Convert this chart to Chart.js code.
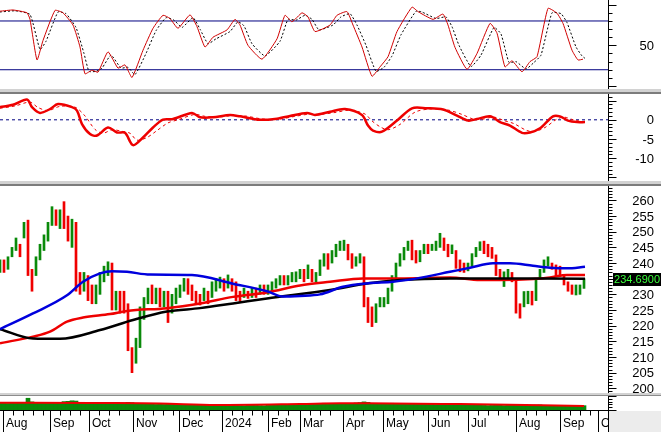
<!DOCTYPE html>
<html>
<head>
<meta charset="utf-8">
<script src="https://cdn.jsdelivr.net/npm/chart.js@4.4.1/dist/chart.umd.min.js"></script>
<style>
  body { margin: 0; background: #fff; width: 661px; height: 432px; overflow: hidden; position: relative; }
  canvas { position: absolute; left: 0; }
  .sep { position: absolute; left: 0; width: 661px; }
</style>
</head>
<body>
<canvas id="cStoch" width="661" height="89" style="top:0px"></canvas>
<div class="sep" style="top:89px;height:3px;background:#d2d2d2"></div>
<div class="sep" style="top:92px;height:2px;background:#7c7c7c"></div>
<canvas id="cMacd" width="661" height="87" style="top:94px"></canvas>
<div class="sep" style="top:181px;height:3px;background:#d2d2d2"></div>
<div class="sep" style="top:184px;height:2px;background:#7c7c7c"></div>
<canvas id="cPrice" width="661" height="207" style="top:186px"></canvas>
<div class="sep" style="top:393px;height:2px;background:#d2d2d2"></div>
<div class="sep" style="top:395px;height:1px;background:#8c8c8c"></div>
<canvas id="cVol" width="661" height="36" style="top:396px"></canvas>

<script>
// ---- data (x = bar index, one bar ~ two sessions, Aug 2023 -> Sep 2024) ----
const closes = [
  239, 238, 240, 244, 247, 243, 251, 238, 235, 241,
  245, 248, 252, 257, 254, 255, 253, 249, 252, 235,
  232, 235, 231, 229, 231, 236, 237, 239, 228, 230,
  228, 226, 214, 208, 214, 224, 228, 231, 229, 231,
  228, 230, 226, 228, 231, 232, 235, 232, 230, 229,
  228, 231, 230, 233, 234, 235, 233, 235, 234, 230,
  229, 231, 230, 231, 230, 232, 231, 232, 233, 234,
  235, 234, 235, 236, 236, 237, 236, 238, 235, 236,
  240, 242, 240, 243, 245, 246, 246, 243, 240, 241,
  242, 228, 224, 222, 226, 227, 227, 231, 235, 239,
  242, 244, 246, 243, 241, 243, 245, 244, 245, 246,
  248, 245, 243, 244, 240, 239, 238, 239, 242, 244,
  246, 245, 244, 242, 238, 236, 236, 237, 235, 226,
  224, 229, 230, 229, 234, 237, 240, 241, 239, 238,
  236, 234, 232, 231, 231, 232, 234.69
];
const highs = [
  241, 241, 242, 245, 248, 246, 253, 253.7, 238, 242,
  246, 249, 253, 258, 257, 257, 259.6, 255, 254, 253,
  237, 237, 236, 233, 233, 237, 239, 240.4, 240, 231,
  231, 231, 227, 213, 216, 226, 229, 232, 233, 232,
  232, 231, 231, 230, 232, 233, 235.1, 235, 233, 231,
  230, 232, 231, 234, 235, 235.5, 235, 236.2, 235, 234,
  231, 232, 231, 232, 232, 233, 233, 233, 234, 235,
  236, 236, 236, 237, 237.2, 238, 238, 239.4, 238, 237,
  241, 243, 243, 244, 246, 247, 247.3, 246, 243, 242,
  243, 242, 229, 226, 227, 229, 229, 232, 236, 240,
  243, 245, 247, 247.3, 244, 244, 246, 246, 246, 247,
  249.5, 248, 246, 245.8, 244, 241, 240, 240, 243, 245,
  246.8, 247, 246, 245, 242.6, 238, 237.2, 238, 237, 235,
  227, 230.9, 231, 231, 235.1, 238, 241, 242, 240, 239.4,
  239, 236, 234, 233, 233, 233, 235
];
const lows = [
  237, 237, 238, 242, 244, 242, 248, 236, 231, 236,
  241, 244, 247, 252, 252, 251, 251, 247, 245, 231,
  230, 231, 228, 227, 227, 230, 234, 236, 225, 225,
  224, 224, 212, 205, 208, 213, 222, 227, 227, 227,
  226, 226, 221, 224, 227, 229, 231, 230, 228, 227,
  226.6, 228, 227, 229, 231, 232, 231, 232, 231, 228,
  227.7, 229, 228.7, 229, 229, 230, 230, 230, 231, 232,
  233, 233, 233, 234, 234, 235, 234, 235, 234, 234,
  236, 239, 238, 240, 242, 244, 244, 241, 238.3, 239,
  240, 226, 221, 219.7, 221, 226, 226, 227, 231, 235,
  239, 241, 244, 241, 240, 240.4, 243, 243, 244, 244,
  245, 244, 242, 243, 238.3, 237.2, 237, 237.5, 239, 242,
  244, 243, 242, 241.5, 236, 235, 232.5, 235, 234, 224,
  222.4, 226, 227, 226.6, 228, 235, 237, 239, 238, 236,
  235.7, 233, 231, 230, 229.8, 230, 231.9
];
const volumes = [
  48, 50, 47, 52, 49, 51, 55, 84, 58, 52,
  50, 48, 52, 55, 50, 49, 60, 62, 66, 64,
  55, 50, 48, 46, 45, 48, 50, 46, 52, 48,
  46, 50, 55, 52, 47, 44, 42, 43, 41, 40,
  42, 40, 43, 44, 41, 39, 38, 40, 37, 38,
  36, 35, 37, 36, 34, 33, 32, 34, 35, 33,
  32, 31, 33, 34, 33, 32, 31, 33, 35, 37,
  38, 37, 39, 41, 40, 42, 45, 43, 42, 44,
  46, 48, 45, 44, 43, 45, 47, 44, 42, 50,
  53, 58, 55, 48, 45, 43, 44, 46, 48, 47,
  45, 44, 43, 42, 44, 43, 41, 42, 40, 39,
  38, 40, 39, 37, 36, 37, 35, 34, 36, 35,
  34, 33, 32, 33, 35, 34, 32, 33, 36, 40,
  38, 35, 33, 34, 35, 36, 33, 32, 31, 32,
  30, 29, 28, 29, 30, 29, 31
];
const lastPrice = 234.69;

// moving averages on price
const maBlueX = [0, 8.25, 16.75, 20.75, 25, 28, 31.75, 37.5, 48, 58.25, 66.75, 70.75, 75, 80, 85.75, 91.75, 98.25, 104.25, 112.5, 117.5, 123.25, 127.5, 133.25, 137.5, 141.75, 146.25];
const maBlue  = [218.9, 223.9, 229.7, 234, 236.7, 237.4, 237.2, 236.3, 236.2, 233.4, 231.0, 229.3, 229.5, 230, 232.4, 233.5, 234, 235.1, 237.2, 238.5, 239.9, 239.9, 239.1, 238.5, 238.3, 238.8];
const maRedX  = [0, 8.25, 12.5, 16.75, 20.75, 27.5, 31.75, 41.75, 50, 58.25, 66.75, 75, 82.5, 90.75, 100, 112.5, 120, 125, 133.25, 137.5, 141.75, 146.25];
const maRed   = [214.4, 216.5, 218.1, 221.3, 222.6, 223.7, 224.7, 225.6, 227.1, 229.2, 230.6, 232.8, 234, 235.1, 235.1, 235.4, 234.6, 234.6, 234.9, 235.4, 236.2, 236.2];
const maBlackX = [0, 8.25, 15, 25, 33.25, 41.75, 50, 58.25, 66.75, 82.5, 91.75, 100, 112.5, 146.25];
const maBlack  = [218.9, 215.9, 215.8, 218.6, 221.8, 224.5, 225.6, 227.1, 228.7, 231.4, 233.5, 234.6, 235.1, 235.0];
const volMaX = [0, 7, 25, 40, 54, 75, 85, 92, 115, 146];
const volMa  = [52, 52, 50, 47, 36, 43, 48, 48, 42, 29];

// stochastic %K / %D
const stochKX = [0, 3.25, 6.75, 7.5, 9.25, 10.75, 13.75, 15.75, 18.25, 20, 21.25, 23, 24.5, 27, 29.5, 31.25, 33, 35.75, 38.25, 40.75, 42.5, 44.5, 47.5, 49.25, 51.25, 53.25, 56.75, 58.75, 60, 62, 65.5, 69.25, 71.25, 73, 75.5, 77, 78.75, 82.5, 84.25, 86.75, 88.25, 90.5, 93, 95, 97, 99.25, 103, 104.5, 108.25, 110.75, 112, 113.75, 116.75, 119.25, 122.5, 124.25, 126.25, 128, 130.5, 132.5, 134.25, 137, 139.25, 140.75, 143, 144.5, 145.75];
const stochK  = [92, 93.5, 90, 82, 32, 56, 93, 90, 75, 48, 15, 19.5, 17, 42, 22, 26, 10.5, 44, 71, 87, 83, 71, 87.5, 73, 48, 60, 69, 82, 75, 50, 33, 58, 87, 79, 90, 85, 67, 75, 87, 91.5, 75, 48, 12, 23.5, 36, 67, 97, 91.5, 82, 88.5, 75, 47.5, 20.5, 40, 77, 65, 23.5, 31, 17.5, 30, 36, 95.5, 89.5, 77, 44, 32, 33];
const stochDX = [0, 3.75, 7.5, 10, 11.5, 14.5, 16.5, 19, 21, 22.25, 24, 25.5, 27.75, 30.25, 32, 33.75, 36.5, 39, 41.5, 43.5, 45.5, 48.25, 50, 52, 54, 57.5, 59.5, 61, 63, 66.25, 70, 72, 74, 76.25, 78, 79.75, 83.25, 85.25, 87.5, 89.25, 91.5, 94, 96, 98, 100.25, 104, 105.5, 109, 111.5, 113, 114.75, 117.75, 120.25, 123.5, 125.25, 127.25, 129, 131.5, 133.5, 135.25, 138, 140.25, 141.75, 144, 145.5, 146.25];
const stochD  = [91, 92.5, 88, 45, 55, 91, 89, 72, 40, 18, 18, 22, 38, 22, 23, 14, 40, 68, 84, 81, 72, 84, 70, 52, 58, 67, 79, 74, 52, 37, 55, 82, 81, 87, 82, 69, 75, 85, 89, 75, 50, 18, 23, 37, 63, 92, 91, 83, 85, 73, 50, 24, 38, 72, 64, 29, 30, 21, 29, 38, 90, 89, 78, 48, 37, 34];
const stochLevels = [20, 80];

// MACD / signal
const macdX = [0, 3.25, 6.75, 8, 10, 12.5, 14.5, 18, 19.25, 20.5, 22.5, 24.25, 27, 29.25, 31.25, 33.25, 35.75, 38.25, 40.75, 43.25, 48, 50, 53.25, 57.5, 60, 65, 69.25, 72.5, 76.75, 78.75, 82.5, 86.25, 90.5, 92, 93.25, 95.5, 99.25, 103, 106.75, 110.75, 114.25, 117, 119.25, 122.5, 125, 127.5, 130.5, 132.5, 135, 138.25, 140, 142, 144.25, 146.25];
const macd  = [3.3, 3.9, 5.3, 3.3, 1.8, 2.8, 4.1, 3.3, 2.4, -1.1, -3.7, -4.1, -2.0, -3.3, -3.4, -6.6, -4.6, -2.0, 0.05, 0.2, 1.8, 0.65, 0.65, 1.25, 0.9, 0, 0.3, 1.0, 1.8, 1.25, 2.1, 2.8, 1.25, -1.5, -2.8, -3.1, -0.2, 3.0, 3.0, 2.7, 1.1, -0.2, 0.2, 0.9, -0.6, -1.5, -3.4, -3.3, -2.2, 0.9, 0.9, -0.2, -0.6, -0.6];
const signalX = [0, 3.75, 7.5, 9.5, 12, 15, 18.75, 21.25, 23.75, 25.75, 28, 30.5, 32.5, 34.25, 36.75, 39.25, 42, 44.5, 48.75, 51.25, 54.5, 58.25, 61.25, 65.75, 70, 73.25, 77.5, 80, 83.75, 87.5, 91.25, 93, 95, 97, 100, 103.75, 107.5, 111.75, 115.5, 118, 120.25, 123.5, 126, 128.5, 131.5, 133.5, 136.25, 139.25, 141, 143, 145, 146.25];
const signal  = [3.0, 3.6, 4.6, 3.2, 2.4, 3.5, 3.3, 1.0, -2.5, -3.5, -2.6, -3.0, -3.5, -5.3, -4.6, -2.8, -0.8, 0.0, 1.4, 0.9, 0.7, 1.1, 1.0, 0.2, 0.2, 0.8, 1.5, 1.4, 1.9, 2.5, 1.5, -0.3, -1.8, -2.6, -1.2, 2.0, 2.8, 2.6, 1.4, 0.3, 0.1, 0.7, -0.2, -1.0, -2.7, -3.1, -2.0, 0.2, 0.7, 0.1, -0.4, -0.5];

// x axis: month starts (bar index) and labels
const monthStarts = [0.75, 12.5, 22.25, 33.25, 44.75, 55.5, 67, 75, 85.75, 95.75, 107, 117, 129, 140, 149.5];
const monthLabels = ['Aug', 'Sep', 'Oct', 'Nov', 'Dec', '2024', 'Feb', 'Mar', 'Apr', 'May', 'Jun', 'Jul', 'Aug', 'Sep', 'Oct'];
const X_MAX = 152;

// ---- helpers ----
const FONT = '"Liberation Sans", Arial, sans-serif';
const UP = '#0a8a0a', DOWN = '#f00000';
function pts(xs, ys) { return xs.map((x, i) => ({ x: x, y: ys[i] })); }
function level(v) { return [{ x: 0, y: v }, { x: X_MAX, y: v }]; }

// right-hand value axis: line, ticks, labels, optional price tag
const panelAxis = {
  id: 'panelAxis',
  afterDraw(chart, args, o) {
    if (!o || !o.minor) return;
    const ctx = chart.ctx, a = chart.chartArea, ys = chart.scales.y;
    const ax = a.right + 0.5;
    ctx.save();
    ctx.strokeStyle = '#000';
    ctx.lineWidth = 1;
    ctx.beginPath();
    ctx.moveTo(ax, 0); ctx.lineTo(ax, chart.height);
    const n = Math.round((o.to - o.from) / o.minor);
    for (let i = 0; i <= n; i++) {
      const v = o.from + i * o.minor;
      const py = Math.round(ys.getPixelForValue(v)) + 0.5;
      const isMajor = Math.abs(v / o.major - Math.round(v / o.major)) < 1e-6;
      ctx.moveTo(ax, py); ctx.lineTo(ax + (isMajor ? 8 : 4), py);
    }
    ctx.stroke();
    ctx.fillStyle = '#000';
    ctx.font = '13px ' + FONT;
    ctx.textAlign = 'right';
    ctx.textBaseline = 'middle';
    (o.labels || []).forEach(v => ctx.fillText(String(v), 654, ys.getPixelForValue(v) + 1));
    if (o.tag != null) {
      const py = ys.getPixelForValue(o.tag);
      ctx.fillStyle = '#000';
      ctx.fillRect(a.right + 5, Math.round(py - 7), chart.width - a.right - 5, 13);
      ctx.fillStyle = '#3cff3c';
      ctx.font = '11px ' + FONT;
      ctx.fillText(o.tag.toFixed(4), 660, py);
    }
    ctx.restore();
  }
};

// month axis under the volume panel
const monthAxis = {
  id: 'monthAxis',
  afterDraw(chart, args, o) {
    if (!o || !o.starts) return;
    const ctx = chart.ctx, a = chart.chartArea, xs = chart.scales.x;
    const base = a.bottom + 0.5;
    ctx.save();
    ctx.fillStyle = '#ececec';
    ctx.fillRect(a.right + 1, a.bottom + 1, chart.width - a.right - 1, chart.height - a.bottom);
    ctx.beginPath();
    ctx.rect(0, 0, a.right, chart.height);
    ctx.clip();
    ctx.strokeStyle = '#000';
    ctx.lineWidth = 1;
    ctx.beginPath();
    ctx.moveTo(0, base); ctx.lineTo(a.right, base);
    o.starts.forEach((s, i) => {
      const px = Math.round(xs.getPixelForValue(s)) + 0.5;
      ctx.moveTo(px, base); ctx.lineTo(px, chart.height);
      const next = i + 1 < o.starts.length ? o.starts[i + 1] : X_MAX;
      for (let w = s + o.week; w < next - o.week * 0.4; w += o.week) {
        const wx = Math.round(xs.getPixelForValue(w)) + 0.5;
        ctx.moveTo(wx, base); ctx.lineTo(wx, base + 5);
      }
    });
    ctx.stroke();
    ctx.fillStyle = '#000';
    ctx.font = '12px ' + FONT;
    ctx.textAlign = 'left';
    ctx.textBaseline = 'middle';
    o.starts.forEach((s, i) => ctx.fillText(o.labels[i], xs.getPixelForValue(s) + 3, base + 13));
    ctx.restore();
  }
};
Chart.register(panelAxis, monthAxis);

function opts(yMin, yMax, axisCfg, extra) {
  return Object.assign({
    responsive: false,
    animation: false,
    devicePixelRatio: 1,
    layout: { padding: { left: 0, right: 53, top: 0, bottom: 0 } },
    plugins: { legend: { display: false }, tooltip: { enabled: false }, panelAxis: axisCfg },
    scales: {
      x: { type: 'linear', min: 0, max: X_MAX, display: false, offset: false },
      y: { type: 'linear', min: yMin, max: yMax, display: false }
    },
    elements: { point: { radius: 0 } }
  }, extra || {});
}

// ---- 1. stochastic ----
new Chart(document.getElementById('cStoch'), {
  type: 'line',
  data: {
    datasets: [
      { data: pts(stochKX, stochK), borderColor: '#d00000', borderWidth: 1, tension: 0.15, order: 1 },
      { data: pts(stochDX, stochD), borderColor: '#000', borderWidth: 1, borderDash: [2, 2], tension: 0.15, order: 2 },
      ...stochLevels.map(v => ({ data: level(v), borderColor: '#000080', borderWidth: 1, order: 3 }))
    ]
  },
  options: opts(-3.7, 105.8, { from: 0, to: 100, minor: 10, major: 50, labels: [50] })
});

// ---- 2. MACD ----
new Chart(document.getElementById('cMacd'), {
  type: 'line',
  data: {
    datasets: [
      { data: pts(macdX, macd), borderColor: '#ee0000', borderWidth: 2.5, tension: 0.3, order: 1 },
      { data: pts(signalX, signal), borderColor: '#ee0000', borderWidth: 1, borderDash: [3, 3], tension: 0.3, order: 2 },
      { data: level(0), borderColor: '#000080', borderWidth: 1, borderDash: [3, 3], order: 3 }
    ]
  },
  options: opts(-15.94, 6.72, { from: -15, to: 6, minor: 1, major: 5, labels: [0, -5, -10] })
});

// ---- 3. price ----
const candleData = closes.map((c, k) => ({ x: k, y: [lows[k], highs[k]] }));
const candleColors = closes.map((c, k) => (k === 0 || c >= closes[k - 1]) ? UP : DOWN);
new Chart(document.getElementById('cPrice'), {
  type: 'bar',
  data: {
    datasets: [
      { type: 'bar', data: candleData, backgroundColor: candleColors, barThickness: 2, order: 10 },
      { type: 'line', data: pts(maRedX, maRed), borderColor: '#ee0000', borderWidth: 2.5, cubicInterpolationMode: 'monotone', order: 3 },
      { type: 'line', data: pts(maBlackX, maBlack), borderColor: '#000', borderWidth: 2.5, cubicInterpolationMode: 'monotone', order: 2 },
      { type: 'line', data: pts(maBlueX, maBlue), borderColor: '#0000dd', borderWidth: 2.5, cubicInterpolationMode: 'monotone', order: 1 }
    ]
  },
  options: opts(198.5, 264.6, { from: 199, to: 264, minor: 1, major: 5, labels: [200, 205, 210, 215, 220, 225, 230, 235, 240, 245, 250, 255, 260], tag: lastPrice })
});

// ---- 4. volume + month axis ----
const volOpts = opts(0, 100, { from: 0, to: 100, minor: 20, major: 100, labels: [] });
volOpts.layout.padding.bottom = 22;
volOpts.plugins.monthAxis = { starts: monthStarts, labels: monthLabels, week: 2.5 };
new Chart(document.getElementById('cVol'), {
  type: 'bar',
  data: {
    datasets: [
      { type: 'bar', data: volumes.map((v, k) => ({ x: k, y: v })), backgroundColor: '#0a8a0a', barThickness: 4, order: 10 },
      { type: 'line', data: pts(volMaX, volMa), borderColor: '#ee0000', borderWidth: 2, cubicInterpolationMode: 'monotone', order: 1 }
    ]
  },
  options: volOpts
});
</script>
</body>
</html>
